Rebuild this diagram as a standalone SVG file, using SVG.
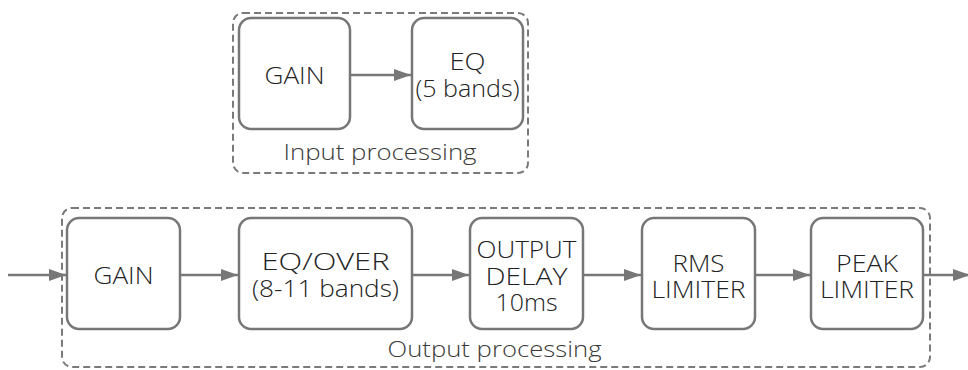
<svg xmlns="http://www.w3.org/2000/svg" width="968" height="370" viewBox="0 0 968 370">
<style>
.grp{fill:none;stroke:#7a7a7a;stroke-width:2;stroke-dasharray:7 4}
.box{fill:#fff;stroke:#777;stroke-width:2.5}
.t{font-family:"Open Sans","Liberation Sans",sans-serif;font-weight:300;font-size:24px;fill:#222;text-anchor:middle}
.g{font-family:"Open Sans","Liberation Sans",sans-serif;font-weight:300;font-size:22px;fill:#3a3a3a;text-anchor:middle}
.c{fill:none;stroke:#777;stroke-width:2.5}
</style>
<defs>
<marker id="ah" markerUnits="userSpaceOnUse" markerWidth="18" markerHeight="14" refX="17" refY="7" orient="auto">
<path d="M0,1 L17,7 L0,13 Z" fill="#777"/>
</marker>
</defs>
<g id="input-processing">
<rect class="grp" x="233" y="13" width="295" height="160" rx="10"/>
<text class="g" x="380" y="160" textLength="193" lengthAdjust="spacingAndGlyphs">Input processing</text>
</g>
<g id="output-processing">
<rect class="grp" x="62" y="208" width="868" height="159" rx="10"/>
<text class="g" x="494.5" y="357" textLength="214" lengthAdjust="spacingAndGlyphs">Output processing</text>
</g>
<g id="in-gain">
<rect class="box" x="239" y="18" width="111" height="111" rx="12"/>
<text class="t" x="294.5" y="84" textLength="60" lengthAdjust="spacingAndGlyphs">GAIN</text>
</g>
<g id="in-eq">
<rect class="box" x="412" y="18" width="111" height="111" rx="12"/>
<text class="t" x="467.5" y="70" textLength="36" lengthAdjust="spacingAndGlyphs">EQ</text>
<text class="t" x="467.5" y="97" textLength="104" lengthAdjust="spacingAndGlyphs">(5 bands)</text>
</g>
<g id="out-gain">
<rect class="box" x="67" y="218" width="113" height="111" rx="12"/>
<text class="t" x="123.5" y="284" textLength="60" lengthAdjust="spacingAndGlyphs">GAIN</text>
</g>
<g id="out-eq">
<rect class="box" x="239" y="218" width="173" height="111" rx="12"/>
<text class="t" x="325.5" y="270" textLength="128" lengthAdjust="spacingAndGlyphs">EQ/OVER</text>
<text class="t" x="325.5" y="297" textLength="147" lengthAdjust="spacingAndGlyphs">(8-11 bands)</text>
</g>
<g id="out-delay">
<rect class="box" x="470" y="218" width="113" height="111" rx="12"/>
<text class="t" x="526.5" y="258" textLength="100" lengthAdjust="spacingAndGlyphs">OUTPUT</text>
<text class="t" x="526.5" y="285" textLength="82" lengthAdjust="spacingAndGlyphs">DELAY</text>
<text class="t" x="526.5" y="311" textLength="62" lengthAdjust="spacingAndGlyphs">10ms</text>
</g>
<g id="out-rms">
<rect class="box" x="642" y="218" width="113" height="111" rx="12"/>
<text class="t" x="698.5" y="272" textLength="52" lengthAdjust="spacingAndGlyphs">RMS</text>
<text class="t" x="698.5" y="298" textLength="94" lengthAdjust="spacingAndGlyphs">LIMITER</text>
</g>
<g id="out-peak">
<rect class="box" x="811" y="218" width="112" height="111" rx="12"/>
<text class="t" x="867" y="272" textLength="62" lengthAdjust="spacingAndGlyphs">PEAK</text>
<text class="t" x="867" y="298" textLength="94" lengthAdjust="spacingAndGlyphs">LIMITER</text>
</g>
<g id="connectors">
<line class="c" x1="350" y1="75" x2="411" y2="75" marker-end="url(#ah)"/>
<line class="c" x1="8" y1="275" x2="66" y2="275" marker-end="url(#ah)"/>
<line class="c" x1="180" y1="275" x2="238" y2="275" marker-end="url(#ah)"/>
<line class="c" x1="412" y1="275" x2="469" y2="275" marker-end="url(#ah)"/>
<line class="c" x1="583" y1="275" x2="641" y2="275" marker-end="url(#ah)"/>
<line class="c" x1="755" y1="275" x2="810" y2="275" marker-end="url(#ah)"/>
<line class="c" x1="923" y1="275" x2="970" y2="275" marker-end="url(#ah)"/>
</g>
</svg>
